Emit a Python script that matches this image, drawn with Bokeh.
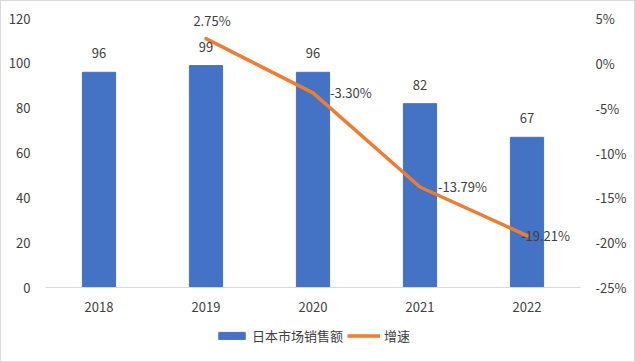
from bokeh.plotting import figure
from bokeh.layouts import column
from bokeh.models import (ColumnDataSource, LinearAxis, Range1d, FactorRange, Legend,
                          LegendItem, LabelSet, Label, FixedTicker, CustomJSTickFormatter)
from bokeh.core.properties import value
from bokeh.embed import file_html
from bokeh.resources import INLINE

years = ["2018", "2019", "2020", "2021", "2022"]
sales = [96, 99, 96, 82, 67]
growth_years = ["2019", "2020", "2021", "2022"]
growth = [2.75, -3.30, -13.79, -19.21]
growth_labels = ["2.75%", "-3.30%", "-13.79%", "-19.21%"]
left_ticks = [0, 20, 40, 60, 80, 100, 120]
right_ticks = [-25, -20, -15, -10, -5, 0, 5]
series_names = ["日本市场销售额", "增速"]

FONT = "Noto Sans CJK SC"
TXT = "#404040"
BAR_C = "#4472C4"
LINE_C = "#ED7D31"

p = figure(width=633, height=320, x_range=FactorRange(*years), y_range=Range1d(0, 125.8),
           output_backend="svg", toolbar_location=None,
           min_border_left=44, min_border_right=54, min_border_top=4, min_border_bottom=34)
p.outline_line_color = None
p.xgrid.grid_line_color = None
p.ygrid.grid_line_color = None
p.extra_y_ranges = {"pct": Range1d(-25, 6.45)}

bar_src = ColumnDataSource(dict(x=years, top=sales, lab=[str(v) for v in sales]))
p.vbar(x="x", top="top", width=0.31, source=bar_src, color=BAR_C)

line_src = ColumnDataSource(dict(x=growth_years, y=growth, lab=growth_labels))
p.line(x="x", y="y", source=line_src, y_range_name="pct", line_color=LINE_C,
       line_width=3.5, line_cap="round", line_join="round")

# axes
p.yaxis.ticker = FixedTicker(ticks=left_ticks)
for ax in (p.xaxis[0], p.yaxis[0]):
    ax.major_tick_line_color = None
    ax.minor_tick_line_color = None
    ax.major_label_text_font = FONT
    ax.major_label_text_font_size = "13px"
    ax.major_label_text_color = TXT
p.yaxis.axis_line_color = None
p.yaxis.major_label_standoff = 9
p.xaxis.axis_line_color = "#d9d9d9"
p.xaxis.major_label_standoff = 8

rax = LinearAxis(y_range_name="pct", ticker=FixedTicker(ticks=right_ticks),
                 formatter=CustomJSTickFormatter(code="return tick + '%';"))
rax.axis_line_color = None
rax.major_tick_line_color = None
rax.minor_tick_line_color = None
rax.major_label_text_font = FONT
rax.major_label_text_font_size = "13px"
rax.major_label_text_color = TXT
rax.major_label_standoff = 9
p.add_layout(rax, "right")

# bar labels
p.add_layout(LabelSet(x="x", y="top", text="lab", source=bar_src, y_offset=19,
                      text_align="center", text_baseline="middle", text_font=value(FONT),
                      text_font_size=value("13px"), text_color=TXT))

# line labels
offsets = [(6, 18, "center"), (17, 0, "left"), (18, 0, "left"), (-6, 0, "left")]
for gx, gy, gl, (dx, dy, al) in zip(growth_years, growth, growth_labels, offsets):
    p.add_layout(Label(x=years.index(gx) + 0.5, y=gy, y_range_name="pct", text=gl,
                       x_offset=dx, y_offset=dy, text_align=al, text_baseline="middle",
                       text_font=FONT, text_font_size="13px", text_color=TXT))

# legend strip (series drawn out of view; only the legend shows)
lg = figure(width=633, height=40, x_range=FactorRange(*years), y_range=Range1d(1000, 1001),
            output_backend="svg", toolbar_location=None,
            x_axis_location=None, y_axis_location=None,
            min_border_left=0, min_border_right=0, min_border_top=0, min_border_bottom=0)
lg.xgrid.grid_line_color = None
lg.ygrid.grid_line_color = None
lg.outline_line_color = None
lb = lg.vbar(x="x", top="top", width=0.31, source=bar_src, color=BAR_C)
ll = lg.line(x="x", y="y", source=line_src, line_color=LINE_C, line_width=3.5)
legend = Legend(items=[LegendItem(label=series_names[0], renderers=[lb]),
                       LegendItem(label=series_names[1], renderers=[ll])],
                orientation="horizontal", location=(170, 16), border_line_color=None,
                background_fill_alpha=0,
                label_text_font=FONT, label_text_font_size="13px", label_text_color=TXT,
                glyph_width=33, glyph_height=9, spacing=4, label_standoff=4,
                padding=0, margin=0)
lg.add_layout(legend, "center")

layout = column(p, lg, spacing=0, styles={"border": "1px solid #d9d9d9"})
open("out.html", "w").write(file_html(layout, INLINE))
